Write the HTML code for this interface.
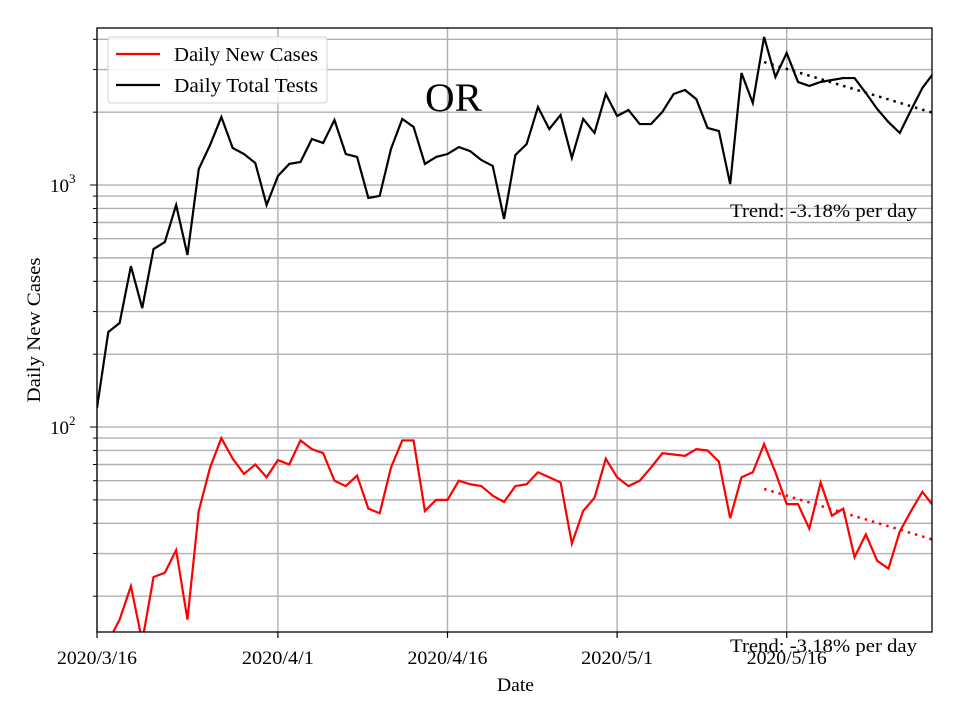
<!DOCTYPE html>
<html><head><meta charset="utf-8"><style>
body{margin:0;background:#fff}
svg text{font-family:"Liberation Serif",serif;fill:#000}
</style></head><body>
<svg id="c" width="960" height="720" xmlns="http://www.w3.org/2000/svg"></svg>
<script>
const tests=[120,247,269,462,310,544,581,827,514,1164,1463,1910,1422,1343,1233,827,1089,1222,1245,1549,1492,1856,1343,1306,884,901,1409,1875,1738,1222,1306,1343,1435,1381,1268,1199,724,1330,1476,2101,1703,1946,1294,1875,1641,2377,1928,2042,1786,1786,2003,2377,2470,2265,1721,1671,1009,2904,2183,4090,2794,3510,2665,2566,2665,2716,2767,2767,2399,2061,1820,1641,2042,2518,2904];
const cases=[10,13,16,22,13,24,25,31,16,45,68,90,74,64,70,62,73,70,88,81,78,60,57,63,46,44,68,88,88,45,50,50,60,58,57,52,49,57,58,65,62,59,33,45,51,74,62,57,60,68,78,77,76,81,80,72,42,62,65,85,65,48,48,38,59,43,46,29,36,28,26,37,45,54,47];
const trendStartDay=59;
const trendRate=-0.0318;
const trendTestsStart=3220;
const trendCasesStart=55.5;
const dateTicks=[0,16,31,46,61];
const dateLabels=["2020/3/16","2020/4/1","2020/4/16","2020/5/1","2020/5/16"];
const X0=97,X1=932,Y0=28,Y1=632;
const days=73.85;
function xs(d){return X0+(X1-X0)*d/days;}
const lmin=Math.log10(10)+0.1530, lmax=3.6488;
function ys(v){return Y1-(Math.log10(v)-lmin)/(lmax-lmin)*(Y1-Y0);}
const svg=document.getElementById('c');
const NS='http://www.w3.org/2000/svg';
function mk(t,a,p){const e=document.createElementNS(NS,t);for(const k in a)e.setAttribute(k,a[k]);(p||svg).appendChild(e);return e;}
const defs=mk('defs',{});const cp=mk('clipPath',{id:'clip'},defs);mk('rect',{x:X0,y:Y0,width:X1-X0,height:Y1-Y0},cp);
const grid=mk('g',{});


for(let dec=1;dec<=3;dec++){for(let m=1;m<=9;m++){const v=m*Math.pow(10,dec);const y=ys(v);if(y<Y0||y>Y1)continue;
 mk('line',{x1:X0,x2:X1,y1:y,y2:y,stroke:'#b0b0b0','stroke-width':1.4},grid);
 mk('line',{x1:X0-(m==1?7:4),x2:X0,y1:y,y2:y,stroke:'#000','stroke-width':1},grid);}}
dateTicks.forEach((d,i)=>{const x=xs(d);mk('line',{x1:x,x2:x,y1:Y0,y2:Y1,stroke:'#b0b0b0','stroke-width':1.4},grid);
 mk('line',{x1:x,x2:x,y1:Y1,y2:Y1+6,stroke:'#000','stroke-width':1.2},grid);
 const t=mk('text',{x:x,y:664,'text-anchor':'middle','font-size':19,textLength:80,lengthAdjust:'spacingAndGlyphs'});t.textContent=dateLabels[i];
 if(dateLabels[i].length<9)t.setAttribute('textLength',72);
 
 });
[2,3].forEach(p=>{const y=ys(Math.pow(10,p));const t=mk('text',{x:50,y:y+7,'font-size':19});t.innerHTML='10<tspan dy="-9" font-size="13">'+p+'</tspan>';
 
 });
function line(arr,col,name){const pts=arr.map((v,i)=>xs(i)+','+ys(v)).join(' ');
 const p=mk('polyline',{points:pts,fill:'none',stroke:col,'stroke-width':2.2,'clip-path':'url(#clip)'});
 
 }
line(cases,'#ff0000','daily-new-cases-line');
line(tests,'#000','daily-total-tests-line');
function trend(start,col,name){const pts=[];for(let d=trendStartDay;d<=74;d++)pts.push(xs(d)+','+ys(start*Math.pow(1+trendRate,d-trendStartDay)));
 const p=mk('polyline',{points:pts.join(' '),fill:'none',stroke:col,'stroke-width':2.5,'stroke-dasharray':'2.5,5','clip-path':'url(#clip)'});
 
 }
trend(trendTestsStart,'#000','tests-trend-line');
trend(trendCasesStart,'#ff0000','cases-trend-line');
const fr=mk('rect',{x:X0,y:Y0,width:X1-X0,height:Y1-Y0,fill:'none',stroke:'#000','stroke-width':1.3});


</script>
<svg style="position:absolute;left:0;top:0" width="960" height="720">
<g>
<rect x="108" y="37" width="219" height="66" rx="3" fill="#fff" fill-opacity="0.85" stroke="#d0d0d0"/>
<line x1="116" y1="54" x2="160" y2="54" stroke="#ff0000" stroke-width="2.2"/>
<text x="174" y="61" font-size="20" textLength="144" lengthAdjust="spacingAndGlyphs">Daily New Cases</text>
<line x1="116" y1="85" x2="160" y2="85" stroke="#000" stroke-width="2.2"/>
<text x="174" y="92" font-size="20" textLength="144" lengthAdjust="spacingAndGlyphs">Daily Total Tests</text>
</g>
<text x="425" y="111" font-size="40" textLength="57" lengthAdjust="spacingAndGlyphs">OR</text>
<text x="730" y="217" font-size="19" textLength="187" lengthAdjust="spacingAndGlyphs">Trend: -3.18% per day</text>
<text x="730" y="652" font-size="19" textLength="187" lengthAdjust="spacingAndGlyphs">Trend: -3.18% per day</text>
<text x="497" y="691" font-size="19" textLength="37" lengthAdjust="spacingAndGlyphs">Date</text>
<text x="0" y="0" font-size="19" text-anchor="middle" textLength="145" lengthAdjust="spacingAndGlyphs" transform="translate(40,330) rotate(-90)">Daily New Cases</text>
</svg>
</body></html>
